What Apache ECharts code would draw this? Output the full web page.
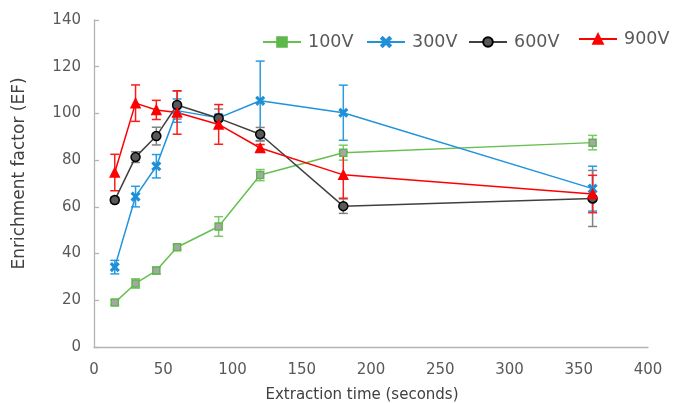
<!DOCTYPE html>
<html>
<head>
<meta charset="utf-8">
<script src="https://cdn.jsdelivr.net/npm/echarts@6/dist/echarts.min.js"></script>
<style>
  html, body { margin: 0; padding: 0; background: #ffffff; }
  #chart { width: 673px; height: 403px; }
</style>
</head>
<body>
<div id="chart"></div>
<script>
// Extraction time (s) and enrichment factor with standard deviation per voltage
const times = [15, 30, 45, 60, 90, 120, 180, 360];

const ef100 = [19.0, 27.2, 32.7, 42.7, 51.6, 73.6, 83.2, 87.5];
const err100 = [1.0, 2.0, 1.5, 1.0, 4.2, 2.4, 3.2, 3.1];

const ef300 = [34.2, 64.4, 77.4, 101.2, 98.1, 105.4, 100.3, 67.8];
const err300 = [2.9, 4.4, 5.0, 5.0, 1.5, 17.0, 11.8, 9.6];

const ef600 = [62.9, 81.3, 90.3, 103.6, 97.9, 91.1, 60.3, 63.6];
const err600 = [1.2, 2.3, 3.8, 6.0, 4.0, 2.9, 3.1, 12.0];

const ef900 = [74.7, 104.4, 101.5, 100.4, 95.3, 85.2, 73.7, 65.5];
const err900 = [7.8, 7.8, 4.1, 9.3, 8.5, 1.5, 10.0, 8.0];

const yTicks = { min: 0, max: 140, interval: 20 };
const xTicks = { min: 0, max: 400, interval: 50 };

const FONT = 'DejaVu Sans';
const TEXT = '#595959';

// filled "x" glyph for the 300V markers
const CROSS = 'path://M1.5,0 L5,3.5 L8.5,0 L10,1.5 L6.5,5 L10,8.5 L8.5,10 L5,6.5 L1.5,10 L0,8.5 L3.5,5 L0,1.5 Z';

function pairs(vals) {
  return times.map((t, i) => [t, vals[i]]);
}

function errorRows(vals, errs) {
  return times.map((t, i) => [t, vals[i] - errs[i], vals[i] + errs[i]]);
}

function errorSeries(name, vals, errs, color) {
  return {
    name: name,
    type: 'custom',
    data: errorRows(vals, errs),
    encode: { x: 0, y: [1, 2] },
    silent: true,
    renderItem: function (params, api) {
      const x = api.value(0);
      const lo = api.coord([x, api.value(1)]);
      const hi = api.coord([x, api.value(2)]);
      const half = 4.5;
      const style = { stroke: color, lineWidth: 1.5, fill: null };
      return {
        type: 'group',
        children: [
          { type: 'line', shape: { x1: lo[0], y1: lo[1], x2: hi[0], y2: hi[1] }, style: style },
          { type: 'line', shape: { x1: lo[0] - half, y1: lo[1], x2: lo[0] + half, y2: lo[1] }, style: style },
          { type: 'line', shape: { x1: hi[0] - half, y1: hi[1], x2: hi[0] + half, y2: hi[1] }, style: style }
        ]
      };
    }
  };
}

function lineSeries(name, vals, symbol, size, fill, border, lineColor) {
  return {
    name: name,
    type: 'line',
    data: pairs(vals),
    symbol: symbol,
    symbolSize: size,
    showAllSymbol: true,
    lineStyle: { color: lineColor, width: 1.5 },
    itemStyle: { color: fill, borderColor: border, borderWidth: 1.5 },
    emphasis: { disabled: true }
  };
}

function legendAt(name, left, top, iconStyle) {
  const item = { name: name };
  if (iconStyle) item.itemStyle = iconStyle;
  return {
    data: [item],
    left: left,
    top: top,
    padding: 0,
    itemWidth: 38,
    itemHeight: 12,
    textStyle: { fontFamily: FONT, fontSize: 17.5, color: TEXT, padding: [0, 0, 0, 2] },
    selectedMode: false
  };
}

const chart = echarts.init(document.getElementById('chart'), null, { renderer: 'canvas' });

chart.setOption({
  animation: false,
  backgroundColor: '#ffffff',
  grid: { left: 94, right: 25, top: 20, bottom: 56, containLabel: false, outerBoundsMode: 'none' },
  legend: [
    legendAt('100V', 262, 33, { color: '#5cb84a', borderColor: '#5cb84a' }),
    legendAt('300V', 366, 33),
    legendAt('600V', 468, 33),
    legendAt('900V', 578, 30)
  ],
  xAxis: {
    type: 'value',
    min: xTicks.min,
    max: xTicks.max,
    interval: xTicks.interval,
    name: 'Extraction time (seconds)',
    nameLocation: 'middle',
    nameGap: 41,
    nameTextStyle: { fontFamily: FONT, fontSize: 15, color: '#404040', padding: [0, 18, 0, 0] },
    axisLine: { show: true, lineStyle: { color: '#b3b3b3', width: 1.3 } },
    axisTick: { show: false },
    splitLine: { show: false },
    axisLabel: { fontFamily: FONT, fontSize: 15, color: TEXT, margin: 16 }
  },
  yAxis: {
    type: 'value',
    min: yTicks.min,
    max: yTicks.max,
    interval: yTicks.interval,
    name: 'Enrichment factor (EF)',
    nameLocation: 'middle',
    nameRotate: 90,
    nameGap: 66,
    nameTextStyle: { fontFamily: FONT, fontSize: 17, color: '#404040', padding: [0, 0, 0, 20] },
    axisLine: { show: true, lineStyle: { color: '#b3b3b3', width: 1.3 } },
    axisTick: { show: true, inside: true, length: 5, lineStyle: { color: '#b3b3b3', width: 1.3 } },
    splitLine: { show: false },
    axisLabel: { fontFamily: FONT, fontSize: 15, color: TEXT, margin: 13 }
  },
  series: [
    errorSeries('100V sd', ef100, err100, '#7cc86a'),
    lineSeries('100V', ef100, 'rect', 7, '#a6a6a6', '#5cb84a', '#66bf4f'),
    errorSeries('300V sd', ef300, err300, '#2a9be0'),
    lineSeries('300V', ef300, CROSS, 8, '#1f8fd8', '#1f8fd8', '#1f93dc'),
    errorSeries('600V sd', ef600, err600, '#808080'),
    lineSeries('600V', ef600, 'circle', 9, '#595959', '#000000', '#404040'),
    errorSeries('900V sd', ef900, err900, '#ff1a1a'),
    lineSeries('900V', ef900, 'triangle', 9, '#ff0000', '#ff0000', '#ff0000')
  ]
});
</script>
</body>
</html>
